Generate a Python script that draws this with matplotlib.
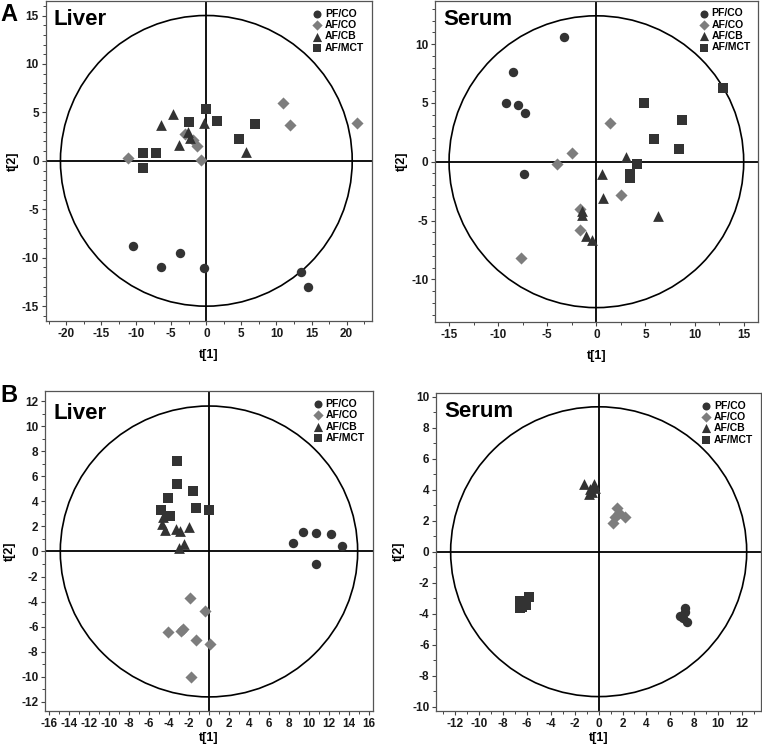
import numpy as np
import matplotlib
matplotlib.use("Agg")
import matplotlib.pyplot as plt
from matplotlib.patches import Ellipse
from matplotlib.ticker import MultipleLocator

plt.rcParams['font.family'] = ['Liberation Sans', 'DejaVu Sans']
plt.rcParams['font.weight'] = 'bold'
plt.rcParams['axes.unicode_minus'] = False

groups = ["PF/CO", "AF/CO", "AF/CB", "AF/MCT"]

# A - Liver scores (t[1], t[2])
a_liver_pfco = [(-10.4, -8.8), (-6.4, -11.0), (-3.7, -9.5), (-0.4, -11.1), (13.5, -11.5), (14.5, -13.0)]
a_liver_afco = [(-11.1, 0.3), (-3.1, 2.8), (-1.9, 2.1), (-1.4, 1.5), (-0.8, 0.1), (10.9, 6.0), (11.9, 3.7), (21.5, 3.9)]
a_liver_afcb = [(-6.4, 3.7), (-4.7, 4.8), (-3.9, 1.6), (-2.6, 3.0), (-2.3, 2.4), (-0.4, 3.9), (5.6, 0.9)]
a_liver_afmct = [(-9.0, 0.8), (-9.0, -0.7), (-7.2, 0.8), (-2.5, 4.0), (0.0, 5.4), (1.5, 4.1), (4.6, 2.3), (7.0, 3.8)]

# A - Serum
a_serum_pfco = [(-3.3, 10.6), (-8.45, 7.6), (-9.25, 5.0), (-7.95, 4.85), (-7.3, 4.1), (-7.35, -1.05)]
a_serum_afco = [(1.35, 3.3), (-2.5, 0.7), (-4.0, -0.2), (2.5, -2.85), (-1.7, -4.0), (-1.65, -5.8), (-7.7, -8.2)]
a_serum_afcb = [(3.0, 0.4), (0.6, -1.05), (0.65, -3.1), (-1.5, -4.15), (-1.5, -4.5), (-1.05, -6.3), (-0.45, -6.65), (6.25, -4.6)]
a_serum_afmct = [(12.85, 6.25), (4.85, 4.95), (8.7, 3.55), (5.85, 1.95), (8.4, 1.05), (4.1, -0.2), (3.4, -1.05), (3.4, -1.35)]

# B - Liver
b_liver_pfco = [(8.4, 0.7), (9.45, 1.55), (10.7, 1.45), (12.2, 1.4), (13.3, 0.45), (10.75, -1.0)]
b_liver_afco = [(-1.9, -3.7), (-0.35, -4.75), (-4.1, -6.45), (-2.85, -6.35), (-2.6, -6.2), (-1.3, -7.1), (0.1, -7.4), (-1.8, -10.0)]
b_liver_afcb = [(-4.6, 2.75), (-4.7, 2.2), (-4.4, 1.75), (-3.35, 1.8), (-2.95, 1.6), (-2.0, 1.95), (-2.5, 0.6), (-3.05, 0.3)]
b_liver_afmct = [(-3.2, 7.2), (-3.25, 5.4), (-1.65, 4.85), (-4.15, 4.3), (-1.35, 3.5), (-4.8, 3.3), (-3.95, 2.8), (0.0, 3.3)]

# B - Serum
b_serum_pfco = [(7.2, -3.65), (7.25, -3.9), (6.85, -4.15), (7.05, -4.25), (7.4, -4.55)]
b_serum_afco = [(1.5, 2.85), (1.7, 2.5), (1.35, 2.25), (2.2, 2.25), (1.2, 1.85)]
b_serum_afcb = [(-1.2, 4.4), (-0.35, 4.35), (-0.75, 4.05), (-0.3, 4.1), (-0.55, 3.85), (-0.8, 3.75)]
b_serum_afmct = [(-5.85, -2.9), (-6.55, -3.15), (-6.1, -3.45), (-6.45, -3.55), (-6.6, -3.65)]

styles = {
    "PF/CO": dict(marker='o', s=46, c='#333333'),
    "AF/CO": dict(marker='D', s=38, c='#7d7d7d'),
    "AF/CB": dict(marker='^', s=60, c='#333333'),
    "AF/MCT": dict(marker='s', s=44, c='#333333'),
}

panels = [
    # title, data, axes rect, xlim, ylim, ellipse radii, x major/minor, y major/minor, label pads
    ("Liver", [a_liver_pfco, a_liver_afco, a_liver_afcb, a_liver_afmct],
     [0.060, 0.5707, 0.428, 0.428], (-22.9, 23.6), (-16.5, 16.5), (20.8, 15.0), (5, 2.5), (5, 1), (7, 2)),
    ("Serum", [a_serum_pfco, a_serum_afco, a_serum_afcb, a_serum_afmct],
     [0.5713, 0.5693, 0.424, 0.430], (-16.4, 16.5), (-13.6, 13.7), (15.0, 12.4), (5, 2.5), (5, 1), (7, 2)),
    ("Liver", [b_liver_pfco, b_liver_afco, b_liver_afcb, b_liver_afmct],
     [0.0595, 0.0486, 0.4295, 0.428], (-16.4, 16.4), (-12.7, 12.8), (14.9, 11.6), (2, 1), (2, 1), (2, 4)),
    ("Serum", [b_serum_pfco, b_serum_afco, b_serum_afcb, b_serum_afmct],
     [0.5726, 0.0486, 0.4261, 0.4257], (-13.6, 13.6), (-10.26, 10.26), (12.4, 9.35), (2, 1), (2, 1), (2, 5)),
]
title_y = [0.941, 0.94, 0.930, 0.940]

fig = plt.figure(figsize=(7.62, 7.47), dpi=100)

for i, (title, data, rect, xlim, ylim, radii, xt, yt, pads) in enumerate(panels):
    ax = fig.add_axes(rect)
    for name, pts in zip(groups, data):
        pts = np.array(pts)
        ax.scatter(pts[:, 0], pts[:, 1], label=name, linewidths=0, zorder=3, **styles[name])
    ax.add_patch(Ellipse((0, 0), 2 * radii[0], 2 * radii[1], fill=False, ec='black', lw=1.2, zorder=2))
    ax.axhline(0, color='black', lw=1.3, zorder=1)
    ax.axvline(0, color='black', lw=1.3, zorder=1)
    ax.set_xlim(*xlim)
    ax.set_ylim(*ylim)
    ax.xaxis.set_major_locator(MultipleLocator(xt[0]))
    ax.xaxis.set_minor_locator(MultipleLocator(xt[1]))
    ax.yaxis.set_major_locator(MultipleLocator(yt[0]))
    ax.yaxis.set_minor_locator(MultipleLocator(yt[1]))
    ax.tick_params(which='major', length=3, width=0.8, labelsize=8.5, color='#444444',
                   labelcolor='#1a1a1a', pad=2)
    ax.tick_params(which='minor', length=2, width=0.7, color='#444444')
    plt.setp(ax.get_xticklabels() + ax.get_yticklabels(), fontweight='bold')
    for sp in ax.spines.values():
        sp.set_color('#555555')
        sp.set_linewidth(0.9)
    ax.set_xlabel("t[1]", fontsize=9, fontweight='bold', labelpad=pads[0])
    ax.set_ylabel("t[2]", fontsize=9, fontweight='bold', labelpad=pads[1])
    ax.text(0.024, title_y[i], title, transform=ax.transAxes, fontsize=16,
            fontweight='bold', va='center', ha='left')
    ax.legend(loc='upper right', bbox_to_anchor=(1.0, 1.0), frameon=False,
              prop=dict(size=7.5, weight='bold'), handletextpad=0.15, labelspacing=0.13,
              borderaxespad=0.35, handlelength=1.2, markerscale=0.85)

fig.text(0.0, 0.981, "A", fontsize=17, fontweight='bold', va='center', ha='left')
fig.text(0.0, 0.470, "B", fontsize=17, fontweight='bold', va='center', ha='left')

fig.savefig("out.png", dpi=100)
